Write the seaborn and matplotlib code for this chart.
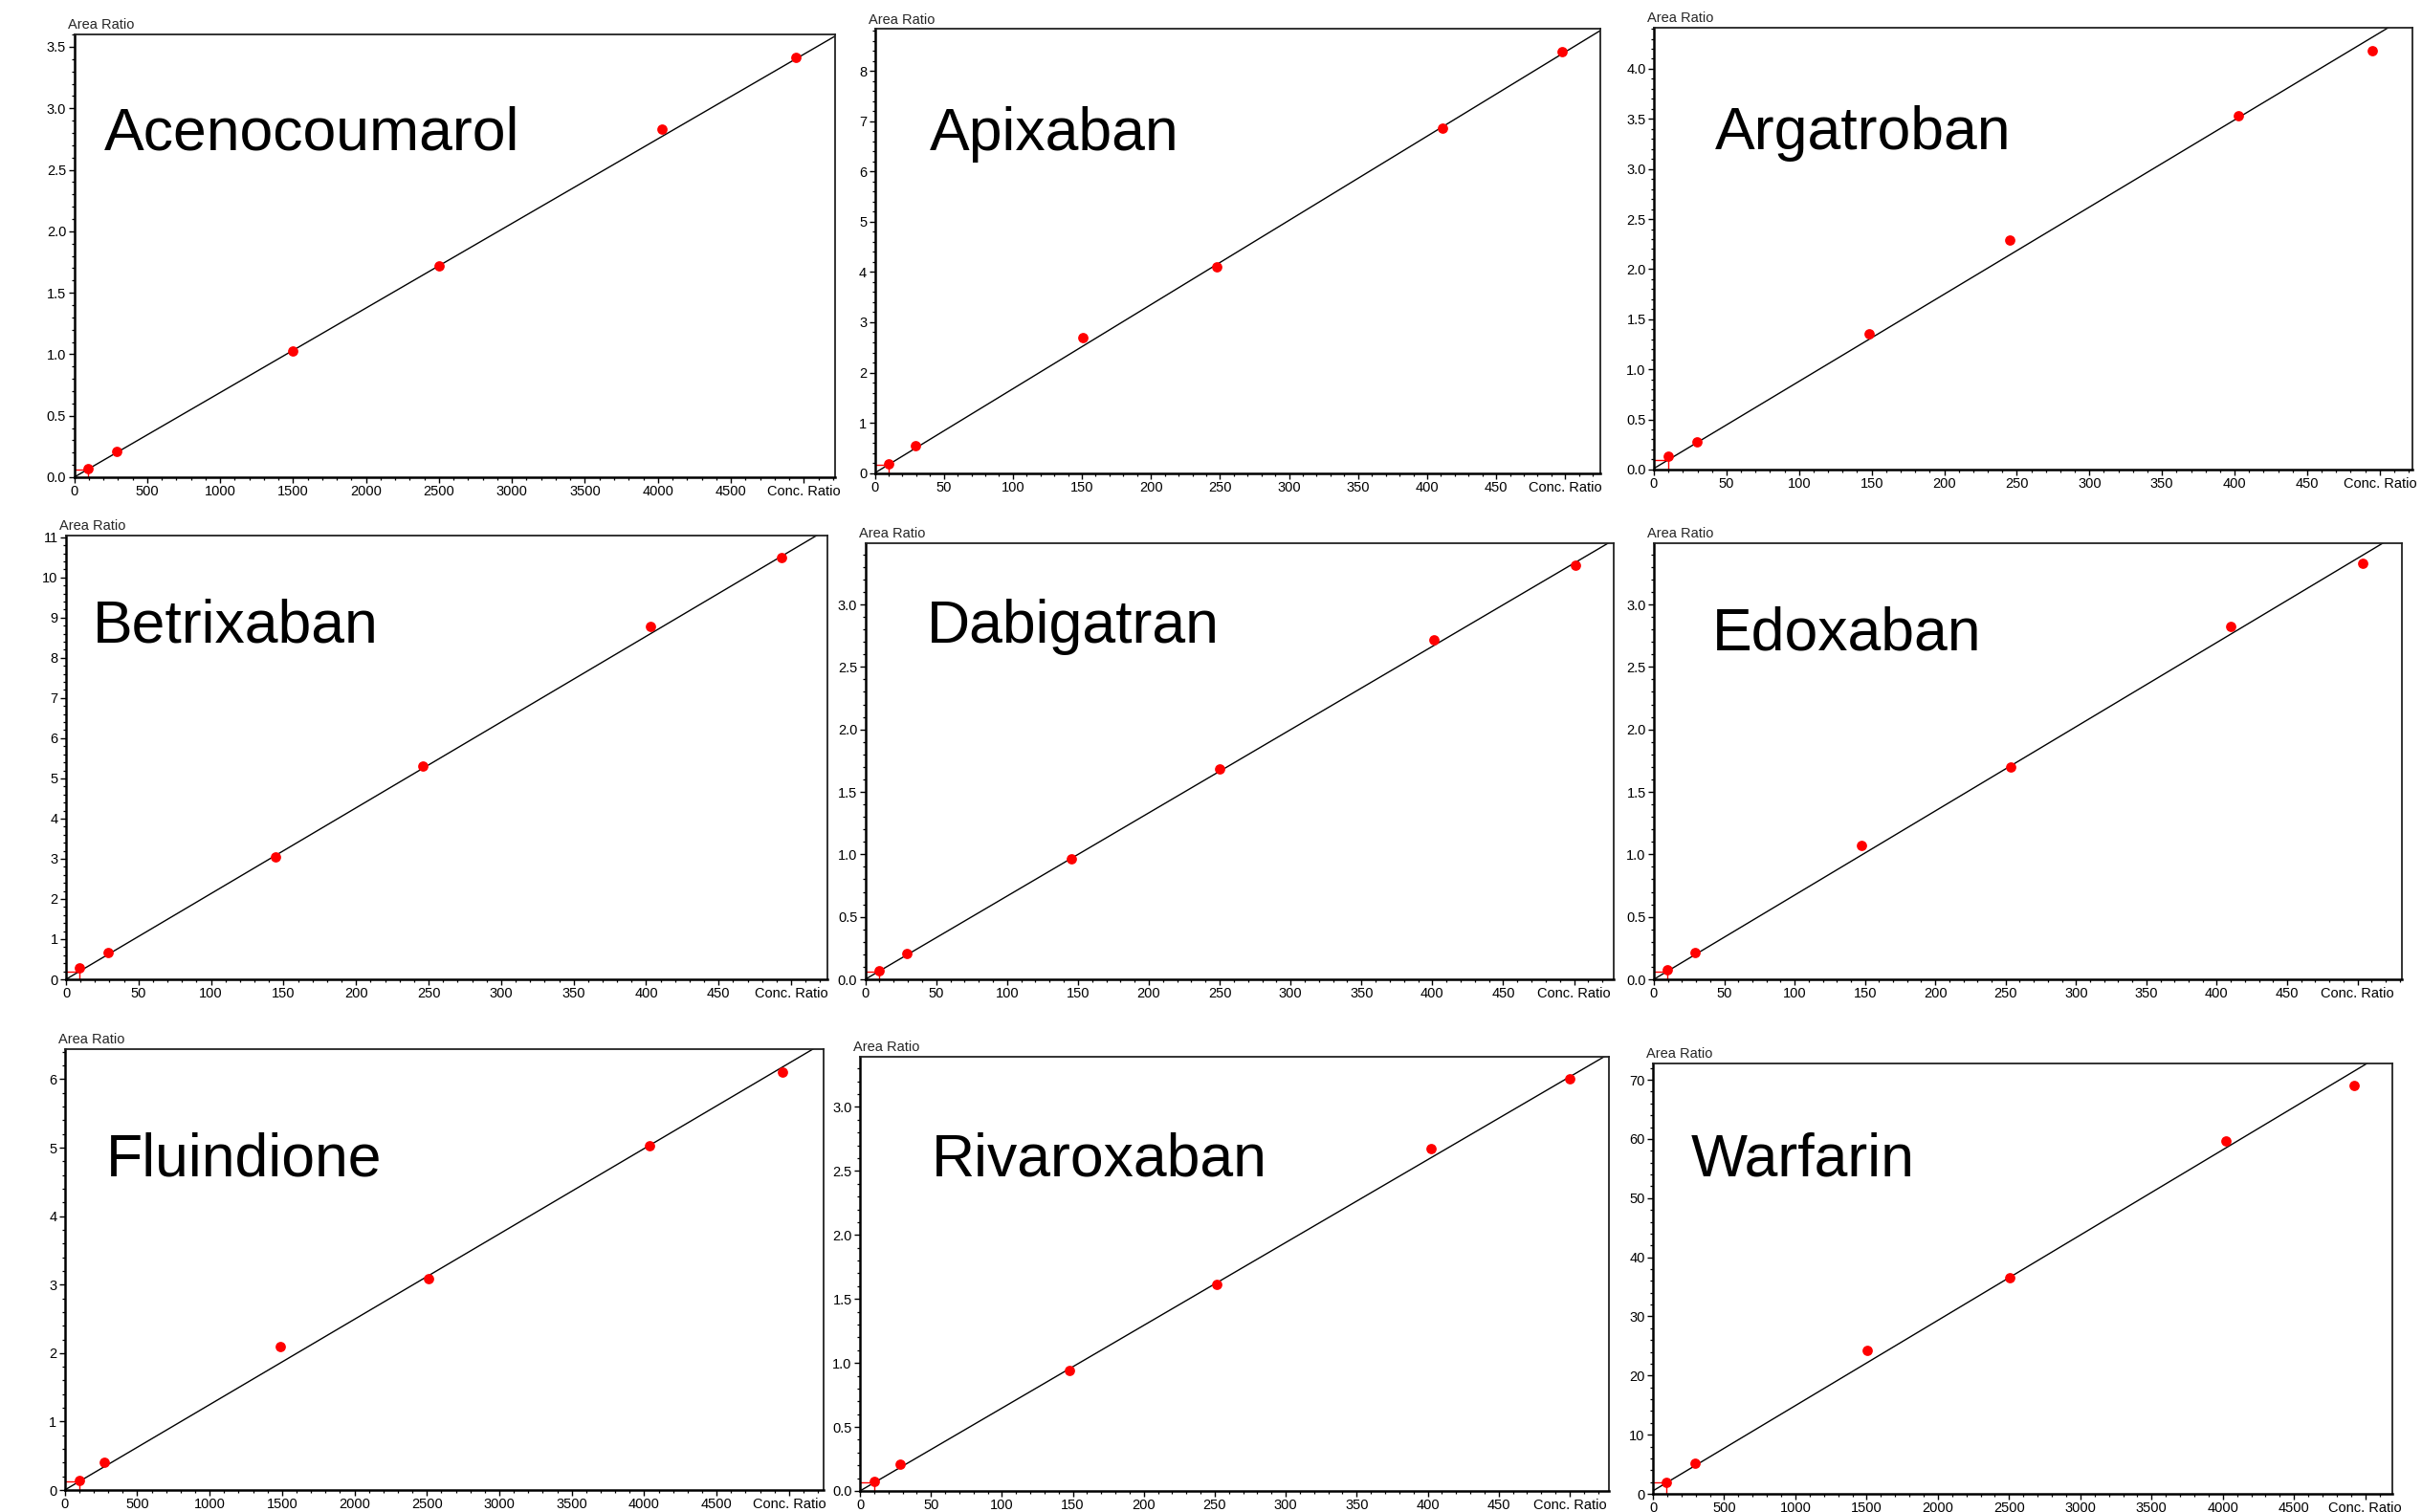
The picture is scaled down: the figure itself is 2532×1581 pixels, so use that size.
import matplotlib
matplotlib.use("Agg")
import matplotlib.pyplot as plt
import seaborn as sns
import numpy as np
import pandas as pd
from matplotlib.ticker import MultipleLocator, FixedLocator, FixedFormatter, FormatStrFormatter

# ---------------- data ----------------
drugs = ["Acenocoumarol", "Apixaban", "Argatroban",
         "Betrixaban", "Dabigatran", "Edoxaban",
         "Fluindione", "Rivaroxaban", "Warfarin"]

conc_acenocoumarol = [95, 290, 1500, 2500, 4025, 4945]
area_acenocoumarol = [0.068, 0.21, 1.024, 1.722, 2.828, 3.418]

conc_apixaban = [9.8, 29.3, 150.4, 247.8, 410.9, 497.5]
area_apixaban = [0.18, 0.547, 2.69, 4.105, 6.86, 8.378]

conc_argatroban = [9.8, 29.4, 148.3, 245.3, 402.7, 495.1]
area_argatroban = [0.129, 0.274, 1.356, 2.286, 3.532, 4.184]

conc_betrixaban = [9.4, 28.9, 144.6, 246.1, 402.7, 493.6]
area_betrixaban = [0.274, 0.66, 3.057, 5.30, 8.785, 10.50]

conc_dabigatran = [9.5, 29.3, 145.3, 249.9, 400.8, 500.9]
area_dabigatran = [0.07, 0.207, 0.966, 1.683, 2.718, 3.316]

conc_edoxaban = [9.4, 29.2, 147.2, 253.3, 409.6, 503.8]
area_edoxaban = [0.078, 0.218, 1.07, 1.701, 2.823, 3.327]

conc_fluindione = [102, 273, 1490, 2510, 4037, 4955]
area_fluindione = [0.139, 0.408, 2.093, 3.086, 5.026, 6.111]

conc_rivaroxaban = [9.9, 28.6, 147.5, 251.7, 402.4, 500.2]
area_rivaroxaban = [0.077, 0.211, 0.945, 1.612, 2.673, 3.218]

conc_warfarin = [96, 296, 1503, 2504, 4022, 4920]
area_warfarin = [1.99, 5.16, 24.25, 36.56, 59.68, 69.09]

# calibration line (slope, intercept) for each drug
fit_slope = [0.000688, 0.01676, 0.00870, 0.02134, 0.00666, 0.006738, 0.001247, 0.00647, 0.01442]
fit_intercept = [0.0, 0.0, 0.01, 0.0, 0.0, 0.0, 0.0, 0.0, 0.5]

x_tick_values_big = [0, 500, 1000, 1500, 2000, 2500, 3000, 3500, 4000, 4500, 5000]
x_tick_values_small = [0, 50, 100, 150, 200, 250, 300, 350, 400, 450, 500]
x_axis_title = "Conc. Ratio"
y_axis_title = "Area Ratio"

conc_all = [conc_acenocoumarol, conc_apixaban, conc_argatroban,
            conc_betrixaban, conc_dabigatran, conc_edoxaban,
            conc_fluindione, conc_rivaroxaban, conc_warfarin]
area_all = [area_acenocoumarol, area_apixaban, area_argatroban,
            area_betrixaban, area_dabigatran, area_edoxaban,
            area_fluindione, area_rivaroxaban, area_warfarin]

# ---------------- layout (pixel boxes, axis ranges, label positions) ----------------
W, H = 2532, 1581
# left, top, right, bottom (px), xmax, ymax, ymajor, yminor, yfmt, text x frac, text baseline frac
layout = [
    (77.5, 35.5, 873, 499, 5214, 3.605, 0.5, 0.1, "%.1f", 0.039, 0.739),
    (914.5, 30.4, 1673, 494.6, 525.4, 8.835, 1, 0.2, "%d", 0.076, 0.728),
    (1729, 28.7, 2522, 490.9, 522.5, 4.413, 0.5, 0.1, "%.1f", 0.081, 0.7235),
    (69, 559.7, 865, 1024, 525.0, 11.05, 1, 0.2, "%d", 0.0346, 0.7596),
    (904.6, 568, 1687, 1024, 528.0, 3.49, 0.5, 0.1, "%.1f", 0.0823, 0.772),
    (1729, 568, 2511, 1024, 531.6, 3.49, 0.5, 0.1, "%.1f", 0.078, 0.755),
    (67.7, 1097, 860.5, 1558, 5235, 6.44, 1, 0.2, "%d", 0.0544, 0.713),
    (899, 1105, 1682, 1559, 527.7, 3.392, 0.5, 0.1, "%.1f", 0.0958, 0.726),
    (1728, 1111.5, 2501, 1562, 5190, 72.85, 10, 2, "%d", 0.0518, 0.738),
]

sns.set_style("ticks")
plt.rcParams["font.family"] = ["Liberation Sans Narrow", "Liberation Sans", "DejaVu Sans"]
plt.rcParams["xtick.direction"] = "out"
plt.rcParams["ytick.direction"] = "out"

fig = plt.figure(figsize=(W / 100, H / 100), dpi=100)
fig.patch.set_facecolor("white")

for i, name in enumerate(drugs):
    l, t, r, b, xmax, ymax, ymaj, ymin_, yfmt, tx, ty = layout[i]
    ax = fig.add_axes([l / W, 1 - b / H, (r - l) / W, (b - t) / H])
    ax.set_facecolor("white")

    big = xmax > 1000
    xt = x_tick_values_big if big else x_tick_values_small
    xminor = 100 if big else 10

    # calibration line
    xs = np.array([0.0, xmax * 1.2])
    line_df = pd.DataFrame({"x": xs, "y": fit_intercept[i] + fit_slope[i] * xs})
    sns.lineplot(data=line_df, x="x", y="y", ax=ax, color="black", lw=1.0,
                 sort=False, estimator=None, zorder=2)

    # LLOQ crosshair at first standard
    x1 = conc_all[i][0]
    yc = fit_intercept[i] + fit_slope[i] * x1
    h_df = pd.DataFrame({"x": [0, x1], "y": [yc, yc]})
    v_df = pd.DataFrame({"x": [x1, x1], "y": [0, yc]})
    sns.lineplot(data=h_df, x="x", y="y", ax=ax, color="red", lw=1.0,
                 sort=False, estimator=None, zorder=2)
    sns.lineplot(data=v_df, x="x", y="y", ax=ax, color="red", lw=1.0,
                 sort=False, estimator=None, zorder=2)

    # points
    pts = pd.DataFrame({"conc": conc_all[i], "area": area_all[i]})
    sns.scatterplot(data=pts, x="conc", y="area", ax=ax, color="#ff0000",
                    s=60, linewidth=0, zorder=3)

    ax.set_xlim(0, xmax)
    ax.set_ylim(0, ymax)
    ax.set_xlabel("")
    ax.set_ylabel("")

    ax.xaxis.set_major_locator(FixedLocator(xt))
    ax.xaxis.set_major_formatter(FixedFormatter([str(v) for v in xt[:-1]] + [x_axis_title]))
    ax.xaxis.set_minor_locator(MultipleLocator(xminor))
    ax.yaxis.set_major_locator(MultipleLocator(ymaj))
    ax.yaxis.set_major_formatter(FormatStrFormatter(yfmt))
    ax.yaxis.set_minor_locator(MultipleLocator(ymin_))

    ax.tick_params(axis="both", which="major", length=4.5, width=1.0,
                   labelsize=10.5, pad=1.5, color="black", labelcolor="black")
    ax.tick_params(axis="both", which="minor", length=2.5, width=0.9, color="black")

    for side in ["left", "bottom"]:
        ax.spines[side].set_linewidth(1.8)
        ax.spines[side].set_color("black")
    for side in ["top", "right"]:
        ax.spines[side].set_linewidth(1.3)
        ax.spines[side].set_color("#222222")
        ax.spines[side].set_visible(True)

    ax.annotate(y_axis_title, xy=(0, 1), xycoords="axes fraction",
                xytext=(-5, 2), textcoords="offset points",
                ha="left", va="bottom", fontsize=10.5)

    ax.text(tx, ty, name, transform=ax.transAxes, ha="left", va="baseline",
            fontsize=45, family=["Liberation Sans", "DejaVu Sans"], color="black")

fig.savefig("out.png", dpi=100, facecolor="white")
